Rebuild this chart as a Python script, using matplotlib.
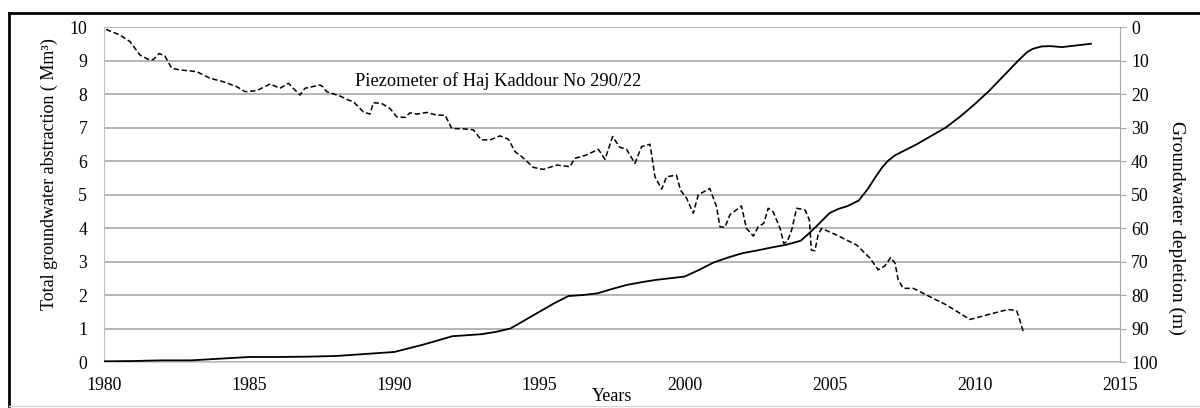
import numpy as np
import matplotlib.pyplot as plt
from matplotlib.lines import Line2D

plt.rcParams['font.family'] = ['Liberation Serif', 'DejaVu Serif']

# total groundwater abstraction (Mm3), left axis
abs_year = [1980, 1981, 1982, 1983, 1984, 1985, 1986, 1987, 1988, 1989, 1990,
            1991, 1992, 1992.5, 1993, 1993.5, 1994, 1994.5, 1995, 1995.5, 1996,
            1996.5, 1997, 1997.5, 1998, 1998.5, 1999, 1999.5, 2000, 2000.5,
            2001, 2001.5, 2002, 2002.5, 2003, 2003.5, 2004, 2004.3, 2004.6,
            2005, 2005.3, 2005.6, 2006, 2006.3, 2006.6, 2006.8, 2007, 2007.25,
            2007.5, 2008, 2008.5, 2009, 2009.5, 2010, 2010.5, 2011, 2011.5,
            2011.8, 2012, 2012.3, 2012.6, 2013, 2013.5, 2014]
abs_val = [0.02, 0.03, 0.05, 0.05, 0.1, 0.15, 0.15, 0.16, 0.18, 0.24, 0.3,
           0.52, 0.77, 0.8, 0.83, 0.9, 1.0, 1.25, 1.5, 1.75, 1.97,
           2.0, 2.05, 2.18, 2.3, 2.38, 2.45, 2.5, 2.55, 2.75,
           2.97, 3.12, 3.25, 3.33, 3.42, 3.5, 3.62, 3.85, 4.1,
           4.45, 4.57, 4.65, 4.82, 5.15, 5.55, 5.8, 6.0, 6.17,
           6.28, 6.5, 6.75, 7.0, 7.33, 7.7, 8.1, 8.55, 9.0,
           9.25, 9.35, 9.42, 9.43, 9.4, 9.45, 9.5]

# piezometer depth (m), right axis
dep_year = [1980.07, 1980.55, 1980.9, 1981.24, 1981.58, 1981.7, 1981.9, 1982.1,
            1982.33, 1982.6, 1983.19, 1983.65, 1984.1, 1984.57, 1984.86, 1985.26,
            1985.72, 1986.06, 1986.35, 1986.52, 1986.75, 1986.92, 1987.44, 1987.53,
            1987.67, 1988.13, 1988.42, 1988.59, 1988.93, 1989.16, 1989.28, 1989.56,
            1989.85, 1990.08, 1990.37, 1990.54, 1990.77, 1991.12, 1991.46, 1991.75,
            1991.98, 1992.38, 1992.72, 1993.0, 1993.3, 1993.64, 1993.93, 1994.16,
            1994.39, 1994.79, 1995.13, 1995.6, 1996.05, 1996.22, 1996.62, 1997.03,
            1997.26, 1997.52, 1997.77, 1998.0, 1998.29, 1998.52, 1998.81, 1998.98,
            1999.21, 1999.38, 1999.72, 1999.86, 2000.07, 2000.3, 2000.47, 2000.87,
            2001.1, 2001.22, 2001.39, 2001.56, 2001.96, 2002.13, 2002.37, 2002.54,
            2002.73, 2002.88, 2003.05, 2003.29, 2003.42, 2003.54, 2003.69, 2003.86,
            2004.15, 2004.3, 2004.37, 2004.49, 2004.6, 2004.72, 2005.24, 2005.93,
            2006.39, 2006.67, 2006.9, 2007.1, 2007.25, 2007.36, 2007.53, 2007.88,
            2008.45, 2009.03, 2009.83, 2010.52, 2011.15, 2011.44, 2011.55, 2011.67]
dep_val = [0.7, 2.4, 4.4, 8.4, 9.9, 9.7, 7.9, 8.7,
           12.3, 12.8, 13.3, 15.3, 16.3, 17.8, 19.3, 19.0,
           17.0, 18.3, 16.8, 18.3, 20.3, 18.3, 17.3, 17.8,
           19.3, 20.6, 21.8, 22.3, 25.3, 26.0, 22.6, 22.8,
           24.3, 26.8, 27.0, 25.6, 26.0, 25.5, 26.3, 26.3,
           30.3, 30.4, 30.7, 33.7, 33.7, 32.5, 33.5, 37.2,
           38.7, 41.9, 42.5, 41.2, 41.7, 39.2, 38.2, 36.5,
           39.5, 32.7, 35.9, 36.5, 40.7, 35.7, 35.0, 44.7,
           48.4, 44.7, 44.2, 48.7, 51.1, 55.6, 50.1, 48.2,
           53.6, 59.6, 59.8, 56.1, 53.4, 60.1, 62.4, 59.6,
           58.6, 54.1, 55.1, 60.1, 64.6, 64.0, 60.6, 54.1,
           54.6, 57.6, 66.6, 66.8, 62.1, 60.1, 62.1, 65.1,
           69.0, 72.5, 71.3, 68.8, 70.5, 75.5, 78.0, 78.0,
           80.5, 83.0, 87.3, 85.7, 84.3, 84.7, 87.5, 91.0]

x_ticks = [1980, 1985, 1990, 1995, 2000, 2005, 2010, 2015]

fig = plt.figure(figsize=(12, 4.08), dpi=100)
ax = fig.add_axes([0.0867, 0.1127, 0.8466, 0.8211])

grid_c = '#a0a0a0'
ax.plot(abs_year, abs_val, color='black', lw=1.3, zorder=3)
ax.set_xlim(1980, 2015)
ax.set_ylim(0, 10)
ax.set_xticks(x_ticks)
ax.set_yticks(range(0, 11))
ax.grid(axis='y', color=grid_c, lw=1.1)
ax.set_axisbelow(True)
ax.tick_params(axis='both', length=0, labelsize=12.8, colors='black')
ax.tick_params(axis='x', pad=11)
ax.tick_params(axis='y', pad=12)
for s in ['top', 'right']:
    ax.spines[s].set_visible(False)
ax.spines['left'].set_color('#bdbdbd')
ax.spines['bottom'].set_color('#d0d0d0')
ax.set_ylabel('Total groundwater abstraction ( Mm³)', fontsize=13)
ax.yaxis.set_label_coords(-0.045, 0.56)
ax.set_xlabel('Years', fontsize=13)
ax.xaxis.set_label_coords(0.5, -0.078)

ax2 = ax.twinx()
ax2.plot(dep_year, dep_val, color='black', lw=1.1, linestyle=(0, (3.5, 1.8)), zorder=3)
ax2.set_ylim(100, 0)
ax2.set_yticks(range(0, 101, 10))
for s in ['top', 'left', 'bottom']:
    ax2.spines[s].set_visible(False)
ax2.spines['right'].set_color('#a8a8a8')
ax2.tick_params(axis='y', direction='out', length=4, color='#a8a8a8',
                labelsize=12.8, pad=4)
ax2.set_ylabel('Groundwater depletion (m)', fontsize=14, rotation=270)
ax2.yaxis.set_label_coords(1.064, 0.40)

ax.text(1988.65, 8.4, 'Piezometer of Haj Kaddour No 290/22', fontsize=13.2, va='center')

# outer frame
fig.add_artist(Line2D([0.0075, 1.0], [0.968, 0.968], color='black', lw=2))
fig.add_artist(Line2D([0.0075, 0.0075], [0.005, 0.968], color='black', lw=2))
fig.add_artist(Line2D([0.0075, 1.0], [0.006, 0.006], color='#d8d8d8', lw=1))

fig.savefig('out.png', dpi=100)
